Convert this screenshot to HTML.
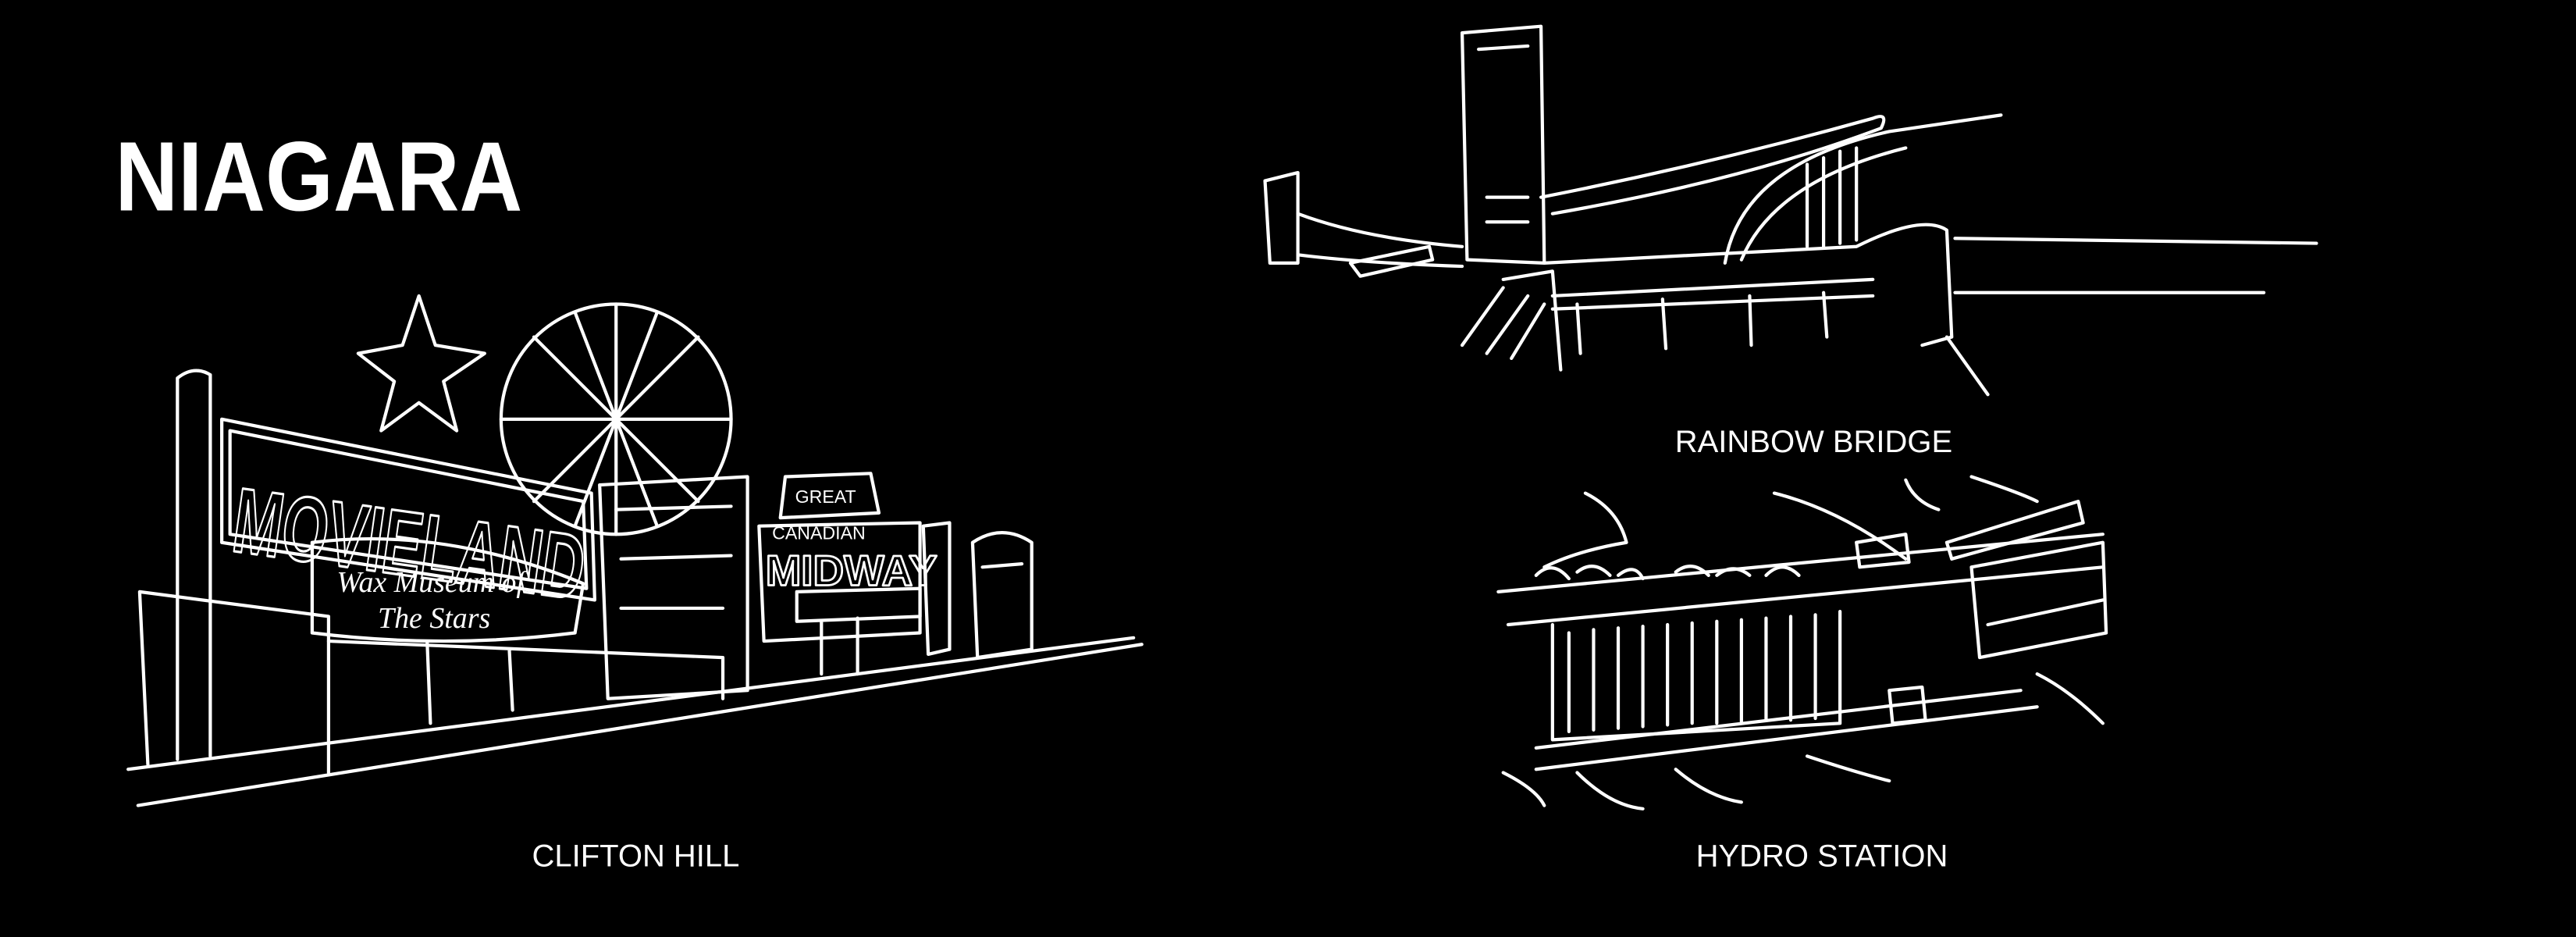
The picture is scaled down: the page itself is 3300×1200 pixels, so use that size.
<!DOCTYPE html>
<html><head><meta charset="utf-8"><style>
html,body{margin:0;padding:0;background:#000;width:3300px;height:1200px;overflow:hidden}
svg{display:block}
</style></head><body>
<svg width="3300" height="1200" viewBox="0 0 1568 570" preserveAspectRatio="none" xmlns="http://www.w3.org/2000/svg">
<rect width="1568" height="570" fill="#000"/>
<g font-family="Liberation Sans, sans-serif" fill="#fff">
<text x="70" y="128" font-size="60" font-weight="bold" textLength="248" lengthAdjust="spacingAndGlyphs">NIAGARA</text>
<text x="387" y="527" font-size="19" text-anchor="middle">CLIFTON HILL</text>
<text x="1104" y="275" font-size="19" text-anchor="middle">RAINBOW BRIDGE</text>
<text x="1109" y="527" font-size="19" text-anchor="middle">HYDRO STATION</text>
</g>
<g fill="none" stroke="#fff" stroke-width="2" stroke-linejoin="round" stroke-linecap="round">
<!-- Clifton Hill -->
<path d="M84 490 L695 392"/>
<path d="M78 468 L690 388"/>
<path d="M108 230 L108 462 M128 228 L128 460 M108 230 Q118 222 128 228"/>
<path d="M135 255 L360 300 L362 365 L135 330 Z"/>
<path d="M140 262 L355 305 L357 358 L140 325 Z"/>
<text x="140" y="335" font-family="Liberation Sans, sans-serif" font-size="56" font-weight="bold" fill="none" stroke="#fff" stroke-width="1.5" transform="rotate(8 140 335)" textLength="215" lengthAdjust="spacingAndGlyphs">MOVIELAND</text>
<path d="M190 330 Q270 320 355 355 L350 385 Q270 395 190 385 Z"/>
<text x="205" y="360" font-family="Liberation Serif, serif" font-size="18" font-style="italic" fill="#fff" stroke="none">Wax Museum of</text>
<text x="230" y="382" font-family="Liberation Serif, serif" font-size="18" font-style="italic" fill="#fff" stroke="none">The Stars</text>
<circle cx="375" cy="255" r="70"/>
<path d="M375 185 L375 325 M305 255 L445 255 M325 205 L425 305 M425 205 L325 305 M350 190 L400 320 M400 190 L350 320"/>
<path d="M255 180 L265 210 L295 215 L270 232 L278 262 L255 245 L232 262 L240 232 L218 215 L245 210 Z"/>
<path d="M85 360 L200 375 L200 470 M85 360 L90 465"/>
<path d="M200 390 L440 400 L440 425 M260 390 L262 440 M310 395 L312 432"/>
<path d="M365 295 L455 290 L455 420 L370 425 Z M375 310 L445 308 M378 340 L445 338 M378 370 L440 370"/>
<path d="M462 320 L560 318 L560 385 L465 390 Z"/>
<text x="466" y="356" font-family="Liberation Sans, sans-serif" font-size="26" font-weight="bold" fill="none" stroke="#fff" stroke-width="1.3">MIDWAY</text>
<text x="470" y="328" font-family="Liberation Sans, sans-serif" font-size="11" fill="#fff" stroke="none">CANADIAN</text>
<text x="484" y="306" font-family="Liberation Sans, sans-serif" font-size="11" fill="#fff" stroke="none">GREAT</text>
<path d="M478 290 L530 288 L535 312 L475 315 Z"/>
<path d="M485 360 L560 358 L560 375 L485 378 Z M500 378 L500 410 M522 376 L522 410"/>
<path d="M562 320 L578 318 L578 395 L565 398 Z"/>
<path d="M592 330 Q610 318 628 330 L628 395 L595 400 Z M598 345 L622 343"/>
<!-- Rainbow Bridge -->
<path d="M890 20 L938 16 L940 160 L893 158 Z M900 30 L930 28 M905 120 L930 120 M905 135 L930 135"/>
<path d="M770 110 L790 105 L790 160 L773 160 Z"/>
<path d="M790 130 Q830 145 890 150 M790 155 Q830 160 890 162"/>
<path d="M822 160 L870 150 L872 158 L828 168 Z"/>
<path d="M940 160 L1130 150 Q1170 130 1185 140 L1188 205 L1170 210"/>
<path d="M945 180 L1140 170 M945 188 L1140 180"/>
<path d="M960 185 L962 215 M1012 182 L1014 212 M1065 180 L1066 210 M1110 178 L1112 205"/>
<path d="M938 120 Q1040 100 1140 72 Q1150 68 1145 78 Q1060 110 945 130"/>
<path d="M1050 160 Q1060 100 1150 80 L1218 70 M1060 158 Q1080 110 1160 90"/>
<path d="M1100 100 L1100 150 M1110 96 L1110 150 M1120 92 L1120 148 M1130 90 L1130 146"/>
<path d="M1190 145 L1410 148 M1190 178 L1378 178"/>
<path d="M890 210 L915 175 M905 215 L930 180 M920 218 L940 185 M1185 205 L1210 240"/>
<path d="M915 170 L945 165 L950 225"/>
<!-- Hydro station -->
<path d="M912 360 L1280 325 M918 380 L1280 345"/>
<path d="M945 380 L945 450 L1120 440 L1120 372"/>
<path d="M955 385 L955 445 M970 383 L970 444 M985 382 L985 443 M1000 381 L1000 442 M1015 380 L1015 441 M1030 379 L1030 440 M1045 378 L1045 440 M1060 377 L1060 439 M1075 376 L1075 438 M1090 375 L1090 438 M1105 374 L1105 437"/>
<path d="M935 455 L1230 420 M935 468 L1240 430"/>
<path d="M1200 345 L1280 330 L1282 385 L1205 400 Z M1210 380 L1280 365"/>
<path d="M1185 330 L1265 305 L1268 318 L1188 340 Z"/>
<path d="M935 350 Q945 340 955 352 M960 348 Q970 340 980 350 M985 350 Q995 342 1000 352 M1020 348 Q1030 340 1040 350 M1045 350 Q1055 342 1065 350 M1075 350 Q1085 340 1095 350"/>
<path d="M1130 330 L1160 325 L1162 342 L1132 345 Z"/>
<path d="M965 300 Q985 310 990 330 Q960 335 940 345 M1080 300 Q1120 310 1160 340 M1160 292 Q1165 305 1180 310 M1200 290 Q1230 300 1240 305"/>
<path d="M915 470 Q935 480 940 490 M960 470 Q980 490 1000 492 M1020 468 Q1040 485 1060 488 M1100 460 Q1130 470 1150 475 M1240 410 Q1260 420 1280 440"/>
<path d="M1150 420 L1170 418 L1172 438 L1152 440 Z"/>
</g>
</svg>
</body></html>
